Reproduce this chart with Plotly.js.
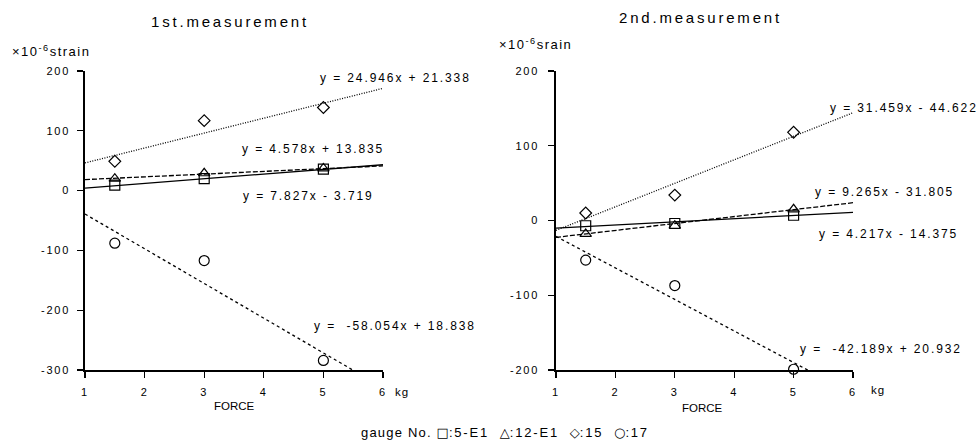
<!DOCTYPE html>
<html>
<head>
<meta charset="utf-8">
<script src="https://cdn.plot.ly/plotly-3.0.1.min.js"></script>
<style>
html,body{margin:0;padding:0;background:#fff;}
#chart{width:979px;height:447px;}
.annotation-text{letter-spacing:1.9px;}
.xtick text,.ytick text,.x2tick text,.y2tick text{letter-spacing:1.8px;}
</style>
</head>
<body>
<div id="chart"></div>
<script>
// ---- data ----
const forceX = [1.5, 3, 5];
// 1st measurement
const gauge5E1_1st  = [9, 20, 36];
const gauge12E1_1st = [20, 29, 37];
const gauge15_1st   = [49, 117, 139];
const gauge17_1st   = [-88, -117, -284];
// 2nd measurement
const gauge5E1_2nd  = [-7, -4, 7];
const gauge12E1_2nd = [-18, -7, 15];
const gauge15_2nd   = [10, 34, 118];
const gauge17_2nd   = [-53, -87, -199];
// fitted lines shown on the chart (slope, intercept)
const fitRange = [1, 6];
const slopes1st     = [7.827, 4.578, 24.946, -58.054];
const intercepts1st = [-3.719, 13.835, 21.338, 18.838];
const slopes2nd     = [4.217, 9.265, 31.459, -42.189];
const intercepts2nd = [-14.375, -31.805, -44.622, 20.932];
const eq1st = ["y = 7.827x - 3.719", "y = 4.578x + 13.835", "y = 24.946x + 21.338", "y = &nbsp;-58.054x + 18.838"];
const eq2nd = ["y = 4.217x - 14.375", "y = 9.265x - 31.805", "y = 31.459x - 44.622", "y = &nbsp;-42.189x + 20.932"];
// ticks
const xTickVals = [1, 2, 3, 4, 5, 6];
const xTickText = ["1", "2", "3", "4", "5", "6"];
const yTickVals1 = [-300, -200, -100, 0, 100, 200];
const yTickText1 = ["-300", "-200", "-100", "0", "100", "200"];
const yTickVals2 = [-200, -100, 0, 100, 200];
const yTickText2 = ["-200", "-100", "0", "100", "200"];
const titles = ["1st.measurement", "2nd.measurement"];
const legendSymbols = ["□", "△", "◇", "○"];
const legendNames = [":5-E1", ":12-E1", ":15", ":17"];

// ---- styling ----
const W = 979, H = 447;
const FONT = "Liberation Sans, Arial, Helvetica, sans-serif";
const symbols = ["square-open", "triangle-up-open", "diamond-open", "circle-open"];
const msizes = [10, 10, 9, 10];
const dashes = ["solid", "5px,2px", "1px,1.5px", "3px,3px"];

const series1 = [gauge5E1_1st, gauge12E1_1st, gauge15_1st, gauge17_1st];
const series2 = [gauge5E1_2nd, gauge12E1_2nd, gauge15_2nd, gauge17_2nd];

const traces = [];
function addPanel(series, slopes, intercepts, xa, ya) {
  series.forEach((vals, i) => {
    traces.push({
      x: fitRange, y: fitRange.map(v => slopes[i] * v + intercepts[i]),
      xaxis: xa, yaxis: ya, mode: "lines", showlegend: false, hoverinfo: "skip",
      line: {color: "#000", width: 1.3, dash: dashes[i]}
    });
  });
  series.forEach((vals, i) => {
    traces.push({
      x: forceX, y: vals, xaxis: xa, yaxis: ya, mode: "markers", showlegend: false,
      cliponaxis: false,
      marker: {symbol: symbols[i], size: msizes[i], color: "#000", line: {width: 1.2, color: "#000"}}
    });
  });
}
addPanel(series1, slopes1st, intercepts1st, "x", "y");
addPanel(series2, slopes2nd, intercepts2nd, "x2", "y2");

const px = v => v / W;
const py = v => 1 - v / H;
const ann = (text, x, y, size, extra) => Object.assign({
  text: text, x: px(x), y: py(y), xref: "paper", yref: "paper",
  xanchor: "center", yanchor: "middle", showarrow: false,
  font: {family: FONT, size: size, color: "#000"}
}, extra || {});

let legendText = '<span style="letter-spacing:1.2px">gauge No. </span>';
legendSymbols.forEach((s, i) => {
  legendText += '<span style="font-family:DejaVu Sans;font-size:13px;letter-spacing:0px">' + s + '</span>' +
    '<span style="letter-spacing:1.8px">' + legendNames[i] + (i < legendSymbols.length - 1 ? '&nbsp; ' : '') + '</span>';
});

const annotations = [
  ann('<span style="letter-spacing:2.8px">' + titles[0] + '</span>', 230, 22, 15),
  ann('<span style="letter-spacing:2.8px">' + titles[1] + '</span>', 700, 17, 15),
  ann('<span style="letter-spacing:1.5px">×10<sup>-6</sup>strain</span>', 10, 51, 13, {xanchor: "left"}),
  ann('<span style="letter-spacing:1.5px">×10<sup>-6</sup>srain</span>', 497, 44, 13, {xanchor: "left"}),
  ann(eq1st[0], 308, 196, 12), ann(eq1st[1], 313, 149, 12),
  ann(eq1st[2], 395, 78, 12), ann(eq1st[3], 395, 326, 12),
  ann(eq2nd[0], 888, 234, 12), ann(eq2nd[1], 884, 192, 12),
  ann(eq2nd[2], 904, 108, 12), ann(eq2nd[3], 881, 349, 12),
  ann('<span style="letter-spacing:0px">FORCE</span>', 234, 406, 11.5),
  ann('<span style="letter-spacing:0px">FORCE</span>', 702, 408, 11.5),
  ann('<span style="letter-spacing:1px">kg</span>', 402, 392, 11.5),
  ann('<span style="letter-spacing:1px">kg</span>', 878, 390, 11.5),
  ann(legendText, 505, 432, 13)
];

const axisCommon = {
  showgrid: false, zeroline: false, showline: true, linecolor: "#000", linewidth: 1.6,
  ticks: "outside", ticklen: 6, tickwidth: 1.3, tickcolor: "#000",
  tickfont: {family: FONT, size: 11, color: "#000"}, fixedrange: true
};
const yDomain = [(H - 370) / H, (H - 71) / H];
const layout = {
  width: W, height: H, margin: {l: 0, r: 0, t: 0, b: 0},
  paper_bgcolor: "#fff", plot_bgcolor: "#fff", showlegend: false,
  xaxis: Object.assign({}, axisCommon, {domain: [85 / W, 383 / W], range: [1, 6], anchor: "y",
    tickvals: xTickVals, ticktext: xTickText, ticklabelstandoff: 5}),
  yaxis: Object.assign({}, axisCommon, {domain: yDomain, range: [-300, 200], anchor: "x",
    tickvals: yTickVals1, ticktext: yTickText1, ticklabelstandoff: 5}),
  xaxis2: Object.assign({}, axisCommon, {domain: [556 / W, 853 / W], range: [1, 6], anchor: "y2",
    tickvals: xTickVals, ticktext: xTickText, ticklabelstandoff: 5}),
  yaxis2: Object.assign({}, axisCommon, {domain: yDomain, range: [-200, 200], anchor: "x2",
    tickvals: yTickVals2, ticktext: yTickText2, ticklabelstandoff: 7}),
  annotations: annotations
};
Plotly.newPlot("chart", traces, layout, {displayModeBar: false, staticPlot: true});
</script>
</body>
</html>
